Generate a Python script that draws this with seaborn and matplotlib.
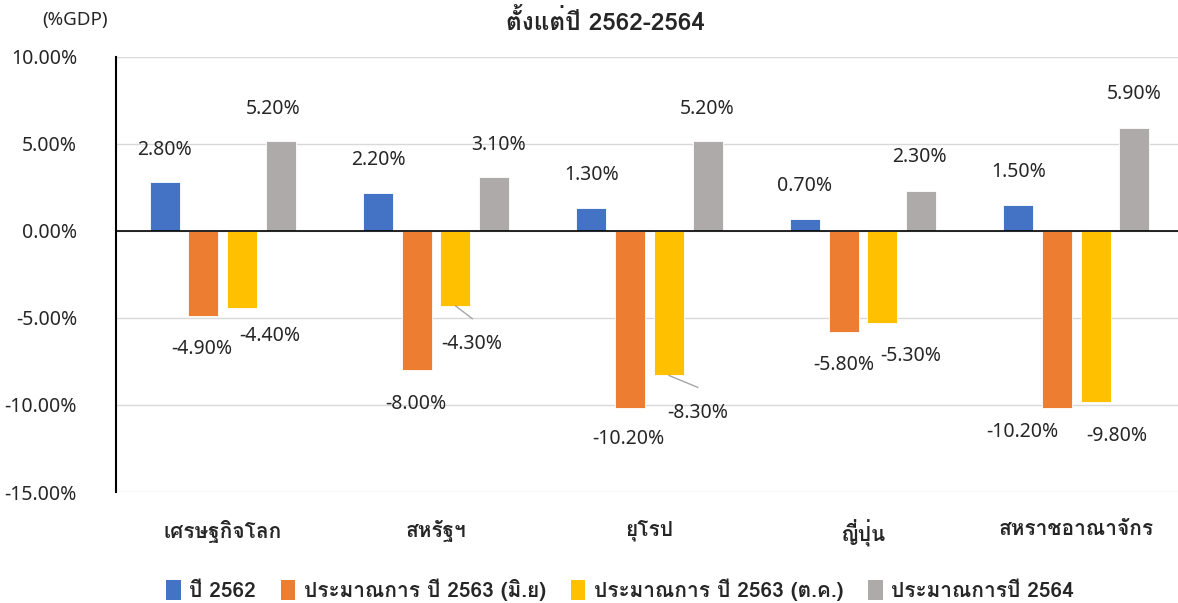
import numpy as np
import pandas as pd
import matplotlib
matplotlib.use('Agg')
import matplotlib.pyplot as plt
import seaborn as sns
from matplotlib import font_manager, ft2font
from matplotlib.patches import Patch

# ข้อมูล (%GDP)
regions = ['เศรษฐกิจโลก', 'สหรัฐฯ', 'ยุโรป', 'ญี่ปุ่น', 'สหราชอาณาจักร']
series = ['ปี 2562', 'ประมาณการ ปี 2563 (มิ.ย)', 'ประมาณการ ปี 2563 (ต.ค.)', 'ประมาณการปี 2564']
gdp_2562 = [2.8, 2.2, 1.3, 0.7, 1.5]
gdp_2563_jun = [-4.9, -8.0, -10.2, -5.8, -10.2]
gdp_2563_oct = [-4.4, -4.3, -8.3, -5.3, -9.8]
gdp_2564 = [5.2, 3.1, 5.2, 2.3, 5.9]
colors = ['#4472C4', '#ED7D31', '#FFC000', '#AEAAAA']

# ตำแหน่งป้ายตัวเลข (pixels จากปลายแท่ง)
label_offsets = [
    [(0, 32), (0, 33), (0, 33), (0, 33), (0, 33)],
    [(-2, -33), (-1, -34), (-2, -31), (0, -33), (-35, -24)],
    [(28, -28), (16, -38), (29, -38), (29, -33), (21, -34)],
    [(-8, 32), (4, 32), (0, 32), (-1, 34), (0, 34)],
]
leaders = {(2, 1): (17, -13), (2, 2): (29, -12)}


def thai_font():
    for f in font_manager.fontManager.ttflist:
        try:
            if ft2font.FT2Font(f.fname).get_char_index(ord('ก')):
                return f.name
        except Exception:
            pass
    return None


sns.set_style('white')
tf = thai_font()
plt.rcParams['font.family'] = ['Noto Sans', tf, 'DejaVu Sans'] if tf else ['Noto Sans', 'DejaVu Sans']
bold_family = [tf, 'DejaVu Sans'] if tf else ['DejaVu Sans']

df = pd.DataFrame({
    'region': np.tile(regions, 4),
    'series': np.repeat(series, 5),
    'value': gdp_2562 + gdp_2563_jun + gdp_2563_oct + gdp_2564,
})

fig = plt.figure(figsize=(11.78, 6.03), dpi=100)
ax = fig.add_axes([116 / 1178, 1 - 492 / 603, 1067 / 1178, 435 / 603])

sns.barplot(data=df, x='region', y='value', hue='series', order=regions,
            hue_order=series, palette=colors, saturation=1, width=0.725, gap=0.225,
            edgecolor='white', linewidth=0.6, legend=False, ax=ax)

ax.set_ylim(-15, 10)
ax.set_yticks(np.arange(-15, 10.1, 5))
ax.set_yticklabels([f'{v:.2f}%' for v in np.arange(-15, 10.1, 5)], fontsize=14, color='#262626')
ax.yaxis.grid(True, color='#D9D9D9', lw=1)
ax.set_axisbelow(True)
ax.axhline(0, color='black', lw=1.2, zorder=3)
ax.tick_params(axis='x', length=0, pad=20)
ax.tick_params(axis='y', length=0, pad=28)
for lab in ax.get_xticklabels():
    lab.set_fontsize(15)
    lab.set_fontweight('bold')
    lab.set_family(bold_family)
ax.set_xlabel('')
ax.set_ylabel('')
for s in ['top', 'right', 'bottom']:
    ax.spines[s].set_visible(False)
ax.spines['left'].set_color('black')
ax.spines['left'].set_linewidth(1.5)

for i, cont in enumerate(ax.containers):
    for j, bar in enumerate(cont):
        v = bar.get_height()
        x = bar.get_x() + bar.get_width() / 2
        dx, dy = label_offsets[i][j]
        ax.annotate(f'{v:.2f}%', xy=(x, v), xytext=(dx, dy),
                    textcoords='offset pixels', ha='center', va='center',
                    fontsize=14, color='#262626', annotation_clip=False)
        if (i, j) in leaders:
            ax.annotate('', xy=(x, v), xytext=leaders[(i, j)],
                        textcoords='offset pixels',
                        arrowprops=dict(arrowstyle='-', color='#A6A6A6', lw=1,
                                        shrinkA=0, shrinkB=0))

fig.text(605 / 1178, 1 - 22 / 603, 'ตั้งแต่ปี 2562-2564', ha='center', va='center',
         fontsize=17.5, fontweight='bold', family=bold_family)
fig.text(75 / 1178, 1 - 20 / 603, '(%GDP)', ha='center', va='center',
         fontsize=13.5, color='#262626')

handles = [Patch(facecolor=c, edgecolor='none') for c in colors]
leg = fig.legend(handles, series, loc='center', ncol=4, frameon=False,
                 bbox_to_anchor=(620 / 1178, 1 - 590 / 603),
                 prop={'size': 15, 'weight': 'bold', 'family': bold_family},
                 handlelength=0.7, handleheight=1.1, handletextpad=0.4,
                 columnspacing=1.2)

fig.savefig('out.png', dpi=100)
